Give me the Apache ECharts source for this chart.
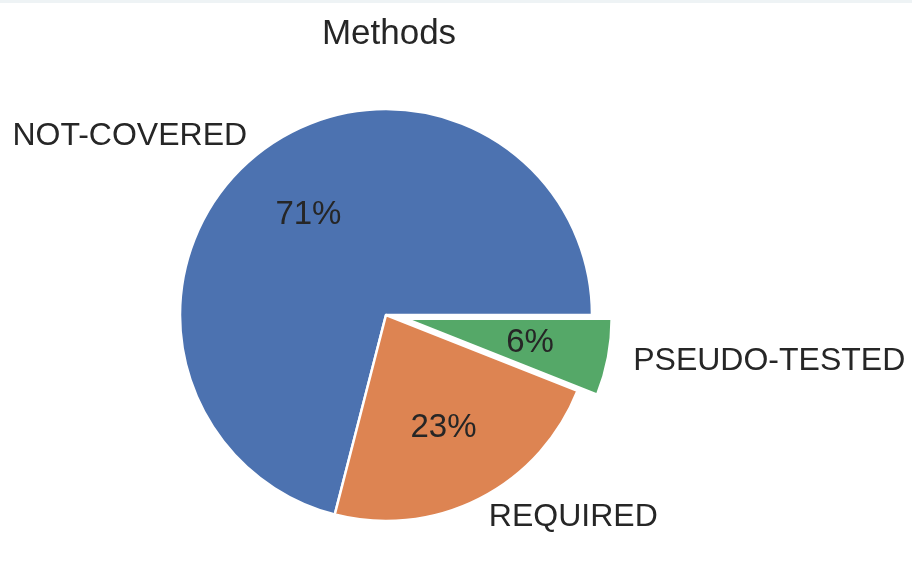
<!DOCTYPE html>
<html>
<head>
<meta charset="utf-8">
<script src="https://cdn.jsdelivr.net/npm/echarts@6/dist/echarts.min.js"></script>
<style>
  html, body { margin: 0; padding: 0; background: #ffffff; }
  body { border-top: 3px solid #eef3f5; box-sizing: border-box; }
  #chart { width: 912px; height: 585px; }
</style>
</head>
<body>
<div id="chart"></div>
<script>
// Method coverage categories and their shares (percent)
const categories = ['NOT-COVERED', 'REQUIRED', 'PSEUDO-TESTED'];
const shares = [71, 23, 6];
const colors = ['#4c72b0', '#dd8452', '#55a868'];
const explodedCategory = 'PSEUDO-TESTED';
const chartTitle = 'Methods';

const R = 206;            // pie radius in px
const center = [386, 312];
const textColor = '#262626';
const fontFamily = '"Liberation Sans", Arial, sans-serif';
// small nudges of the outer name labels [top, right, bottom, left]
const namePadding = [[0, 0, 6, 2], [12, 0, 0, 0], [4, 0, 0, 5]];

function items(withStyle) {
  return categories.map((name, i) => ({
    name: name,
    value: shares[i],
    selected: name === explodedCategory,
    label: withStyle ? { padding: namePadding[i] } : undefined,
    itemStyle: withStyle
      ? { color: colors[i], borderColor: '#ffffff', borderWidth: 2.5 }
      : { color: 'rgba(0,0,0,0)', borderWidth: 0 }
  }));
}

const chart = echarts.init(document.getElementById('chart'), null, { renderer: 'canvas' });
chart.setOption({
  animation: false,
  backgroundColor: '#ffffff',
  title: {
    text: chartTitle,
    left: 384,
    top: 9,
    textAlign: 'center',
    textStyle: { color: textColor, fontSize: 35, fontWeight: 'normal', fontFamily: fontFamily }
  },
  series: [
    {
      // wedges with category names just outside the rim
      type: 'pie',
      center: center,
      radius: [0, R],
      startAngle: 0,
      clockwise: false,
      silent: true,
      selectedMode: 'single',
      selectedOffset: 20,
      avoidLabelOverlap: false,
      minShowLabelAngle: 0,
      emphasis: { disabled: true },
      label: {
        show: true,
        position: 'outside',
        distanceToLabelLine: 0,
        color: textColor,
        fontSize: 32,
        fontFamily: fontFamily,
        formatter: '{b}'
      },
      labelLine: { show: false, length: 0.1 * R, length2: 0 },
      data: items(true)
    },
    {
      // transparent ring carrying the percentage labels at 0.6 R
      type: 'pie',
      center: center,
      radius: [0.2 * R, R],
      startAngle: 0,
      clockwise: false,
      silent: true,
      selectedMode: 'single',
      selectedOffset: 20,
      avoidLabelOverlap: false,
      minShowLabelAngle: 0,
      emphasis: { disabled: true },
      z: 3,
      label: {
        show: true,
        position: 'inside',
        color: textColor,
        fontSize: 33,
        fontFamily: fontFamily,
        formatter: '{c}%'
      },
      labelLine: { show: false },
      data: items(false)
    }
  ]
});
</script>
</body>
</html>
